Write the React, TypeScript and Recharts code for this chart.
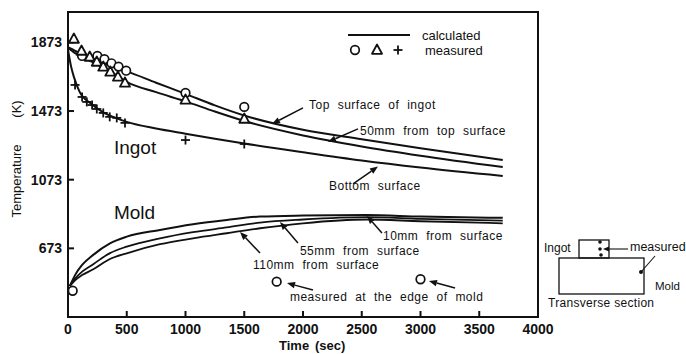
import React from 'react';
import {
  ComposedChart,
  Line,
  Scatter,
  XAxis,
  YAxis,
  ReferenceArea,
  ReferenceLine,
  ReferenceDot,
  Legend,
} from 'recharts';

// ---------- data ----------
const xTicks = [0, 500, 1000, 1500, 2000, 2500, 3000, 3500, 4000];
const yTicks = [673, 1073, 1473, 1873];

// ingot calculated curves
const timeIngot = [0, 25, 50, 100, 200, 300, 400, 500, 750, 1000, 1250, 1500, 2000, 2500, 3000, 3700];
const ingotTopSurface = [1846, 1837, 1828, 1810, 1781, 1751, 1726, 1704, 1638, 1573, 1506, 1447, 1364, 1309, 1256, 1188];
const ingot50mm = [1842, 1828, 1815, 1796, 1761, 1726, 1687, 1643, 1583, 1529, 1470, 1415, 1331, 1267, 1213, 1147];
const ingotBottom = [1830, 1736, 1672, 1583, 1514, 1465, 1435, 1410, 1371, 1341, 1312, 1284, 1233, 1185, 1144, 1095];

// mold calculated curves
const timeMold = [15, 60, 120, 215, 357, 500, 783, 1064, 1351, 1634, 2000, 2542, 3000, 3700];
const mold10mm = [453, 517, 576, 635, 702, 741, 780, 813, 838, 858, 864, 867, 858, 851];
const mold55mm = [453, 497, 537, 581, 645, 683, 731, 767, 795, 823, 841, 855, 845, 834];
const mold110mm = [453, 487, 517, 551, 611, 644, 697, 731, 761, 790, 819, 841, 831, 819];

// measured points
const circleTime = [120, 250, 310, 370, 430, 495, 1000, 1500];
const circleTemp = [1794, 1794, 1775, 1751, 1732, 1708, 1578, 1497];
const triangleTime = [50, 115, 185, 245, 300, 360, 425, 485, 1000, 1500];
const triangleTemp = [1893, 1823, 1788, 1759, 1730, 1701, 1672, 1637, 1538, 1427];
const plusTime = [60, 120, 160, 205, 245, 300, 355, 415, 485, 1000, 1500];
const plusTemp = [1625, 1555, 1526, 1508, 1485, 1462, 1439, 1433, 1404, 1304, 1281];
const moldEdgeTime = [40, 1776, 3000];
const moldEdgeTemp = [426, 479, 493];

// annotations (data coordinates)
const arrows = [
  { from: [2000, 1491], to: [1736, 1398] },
  { from: [2468, 1369], to: [2213, 1293] },
  { from: [2426, 1048], to: [2638, 1150] },
  { from: [2672, 763], to: [2545, 862] },
  { from: [1957, 704], to: [1804, 827] },
  { from: [1634, 646], to: [1464, 768] },
  { from: [2085, 430], to: [1864, 471] },
  { from: [3294, 442], to: [3072, 483] },
];
const notes = [
  { t: 2051, T: 1508, text: 'Top surface of ingot', size: 12 },
  { t: 2485, T: 1357, text: '50mm from top surface', size: 12 },
  { t: 2221, T: 1036, text: 'Bottom surface', size: 12 },
  { t: 391, T: 1258, text: 'Ingot', size: 19 },
  { t: 391, T: 879, text: 'Mold', size: 19 },
  { t: 2681, T: 745, text: '10mm from surface', size: 12 },
  { t: 1974, T: 658, text: '55mm from surface', size: 12 },
  { t: 1574, T: 576, text: '110mm from surface', size: 12 },
  { t: 1889, T: 390, text: 'measured at the edge of mold', size: 12 },
];

const rows = (ts: number[], vs: number[]) => ts.map((t, i) => ({ t, T: vs[i] }));

const FONT = '"Liberation Sans", Arial, Helvetica, sans-serif';
const INK = '#111';

// ---------- shapes ----------
const CircleMark = (p: any) => (
  <circle cx={p.cx} cy={p.cy} r={4.3} fill="#fff" stroke={INK} strokeWidth={1.7} />
);
const TriangleMark = (p: any) => (
  <polygon
    points={`${p.cx},${p.cy - 5.5} ${p.cx - 5},${p.cy + 3.8} ${p.cx + 5},${p.cy + 3.8}`}
    fill="#fff"
    stroke={INK}
    strokeWidth={1.8}
    strokeLinejoin="round"
  />
);
const PlusMark = (p: any) => (
  <g stroke={INK} strokeWidth={1.8}>
    <line x1={p.cx - 4.5} y1={p.cy} x2={p.cx + 4.5} y2={p.cy} />
    <line x1={p.cx} y1={p.cy - 4.5} x2={p.cx} y2={p.cy + 4.5} />
  </g>
);

const arrowShape = (props: any) => {
  const { x1, y1, x2, y2 } = props;
  const ang = Math.atan2(y2 - y1, x2 - x1);
  const L = 8;
  const W = 3.2;
  const bx = x2 - L * Math.cos(ang);
  const by = y2 - L * Math.sin(ang);
  const px = -Math.sin(ang) * W;
  const py = Math.cos(ang) * W;
  return (
    <g>
      <line x1={x1} y1={y1} x2={bx} y2={by} stroke={INK} strokeWidth={1.5} />
      <polygon points={`${x2},${y2} ${bx + px},${by + py} ${bx - px},${by - py}`} fill={INK} />
    </g>
  );
};

const noteShape = (text: string, size: number) => (p: any) => (
  <text
    x={p.cx}
    y={p.cy}
    dominantBaseline="central"
    fontFamily={FONT}
    fontSize={size}
    fill={INK}
    letterSpacing={size > 14 ? 0 : 0.5}
    wordSpacing={size > 14 ? 0 : 4}
  >
    {text}
  </text>
);

const LegendBox = () => (
  <svg width={170} height={40} style={{ overflow: 'visible' }}>
    <line x1={8} y1={10} x2={70} y2={10} stroke={INK} strokeWidth={1.8} />
    <text x={82} y={10} dominantBaseline="central" fontFamily={FONT} fontSize={13} fill={INK}>
      calculated
    </text>
    <CircleMark cx={15} cy={25} />
    <TriangleMark cx={37} cy={25} />
    <PlusMark cx={58} cy={25} />
    <text x={85} y={25} dominantBaseline="central" fontFamily={FONT} fontSize={13} fill={INK}>
      measured
    </text>
  </svg>
);

const tickStyle = { fill: INK, fontSize: 14, fontWeight: 'bold' as const, fontFamily: FONT };

export default function App() {
  return (
    <div style={{ position: 'absolute', left: 0, top: 0, width: 686, height: 354, background: '#fff' }}>
      <ComposedChart
        width={686}
        height={354}
        margin={{ top: 12, right: 148, bottom: 7, left: 8 }}
      >
        <XAxis
          type="number"
          dataKey="t"
          domain={[0, 4000]}
          ticks={xTicks}
          allowDataOverflow
          height={30}
          tickSize={-6}
          tickMargin={13}
          axisLine={{ stroke: INK, strokeWidth: 2 }}
          tickLine={{ stroke: INK, strokeWidth: 2 }}
          tick={tickStyle}
        />
        <YAxis
          type="number"
          dataKey="T"
          domain={[273, 2050]}
          ticks={yTicks}
          allowDataOverflow
          width={60}
          tickSize={-6}
          tickMargin={12}
          axisLine={{ stroke: INK, strokeWidth: 2 }}
          tickLine={{ stroke: INK, strokeWidth: 2 }}
          tick={tickStyle}
        />
        <ReferenceArea
          x1={0}
          x2={4000}
          y1={273}
          y2={2050}
          fill="none"
          fillOpacity={0}
          stroke={INK}
          strokeWidth={2}
          ifOverflow="visible"
        />
        <Line data={rows(timeIngot, ingotTopSurface)} dataKey="T" type="monotone" stroke={INK} strokeWidth={2} dot={false} isAnimationActive={false} />
        <Line data={rows(timeIngot, ingot50mm)} dataKey="T" type="monotone" stroke={INK} strokeWidth={2} dot={false} isAnimationActive={false} />
        <Line data={rows(timeIngot, ingotBottom)} dataKey="T" type="monotone" stroke={INK} strokeWidth={2} dot={false} isAnimationActive={false} />
        <Line data={rows(timeMold, mold10mm)} dataKey="T" type="monotone" stroke={INK} strokeWidth={2} dot={false} isAnimationActive={false} />
        <Line data={rows(timeMold, mold55mm)} dataKey="T" type="monotone" stroke={INK} strokeWidth={1.8} dot={false} isAnimationActive={false} />
        <Line data={rows(timeMold, mold110mm)} dataKey="T" type="monotone" stroke={INK} strokeWidth={1.8} dot={false} isAnimationActive={false} />
        <Scatter data={rows(circleTime, circleTemp)} dataKey="T" shape={CircleMark} isAnimationActive={false} />
        <Scatter data={rows(triangleTime, triangleTemp)} dataKey="T" shape={TriangleMark} isAnimationActive={false} />
        <Scatter data={rows(plusTime, plusTemp)} dataKey="T" shape={PlusMark} isAnimationActive={false} />
        <Scatter data={rows(moldEdgeTime, moldEdgeTemp)} dataKey="T" shape={CircleMark} isAnimationActive={false} />
        {arrows.map((a, i) => (
          <ReferenceLine
            key={'a' + i}
            segment={[
              { x: a.from[0], y: a.from[1] },
              { x: a.to[0], y: a.to[1] },
            ]}
            ifOverflow="visible"
            shape={arrowShape}
          />
        ))}
        {notes.map((n, i) => (
          <ReferenceDot key={'n' + i} x={n.t} y={n.T} r={0} ifOverflow="visible" shape={noteShape(n.text, n.size)} />
        ))}
        <Legend
          verticalAlign="middle"
          align="center"
          wrapperStyle={{ left: 340, top: 25, width: 170, height: 40 }}
          content={() => <LegendBox />}
        />
      </ComposedChart>

      <svg
        width={686}
        height={354}
        style={{ position: 'absolute', left: 0, top: 0, pointerEvents: 'none', overflow: 'hidden' }}
      >
        {/* axis titles */}
        <text x={16} y={181} transform="rotate(-90 16 181)" textAnchor="middle" dominantBaseline="central" fontFamily={FONT} fontSize={13} fill={INK}>
          Temperature
        </text>
        <text x={16} y={109} transform="rotate(-90 16 109)" textAnchor="middle" dominantBaseline="central" fontFamily={FONT} fontSize={13} fill={INK}>
          (K)
        </text>
        <text x={279} y={345} dominantBaseline="central" fontFamily={FONT} fontSize={13} fontWeight="bold" fill={INK}>
          Time
        </text>
        <text x={315} y={345} dominantBaseline="central" fontFamily={FONT} fontSize={13} fontWeight="bold" fill={INK}>
          (sec)
        </text>

        {/* transverse section sketch */}
        <rect x={579} y={240} width={30} height={18} fill="none" stroke={INK} strokeWidth={1.3} />
        <rect x={559} y={258} width={85} height={36} fill="none" stroke={INK} strokeWidth={1.3} />
        <circle cx={600} cy={242} r={1.8} fill={INK} />
        <circle cx={600} cy={249} r={1.8} fill={INK} />
        <circle cx={601} cy={255} r={1.8} fill={INK} />
        <line x1={628} y1={249} x2={608} y2={249} stroke={INK} strokeWidth={1.1} />
        <polygon points="603,249 609,246.5 609,251.5" fill={INK} />
        <circle cx={641} cy={272} r={2} fill={INK} />
        <line x1={641} y1={272} x2={655} y2={256} stroke={INK} strokeWidth={1.1} />
        <text x={544} y={248} dominantBaseline="central" fontFamily={FONT} fontSize={12} fill={INK}>
          Ingot
        </text>
        <text x={630} y={247} dominantBaseline="central" fontFamily={FONT} fontSize={12.5} fill={INK}>
          measured
        </text>
        <text x={655} y={286} dominantBaseline="central" fontFamily={FONT} fontSize={11.5} fill={INK}>
          Mold
        </text>
        <text x={548} y={303} dominantBaseline="central" fontFamily={FONT} fontSize={12} letterSpacing={0.3} fill={INK}>
          Transverse section
        </text>
      </svg>
    </div>
  );
}
